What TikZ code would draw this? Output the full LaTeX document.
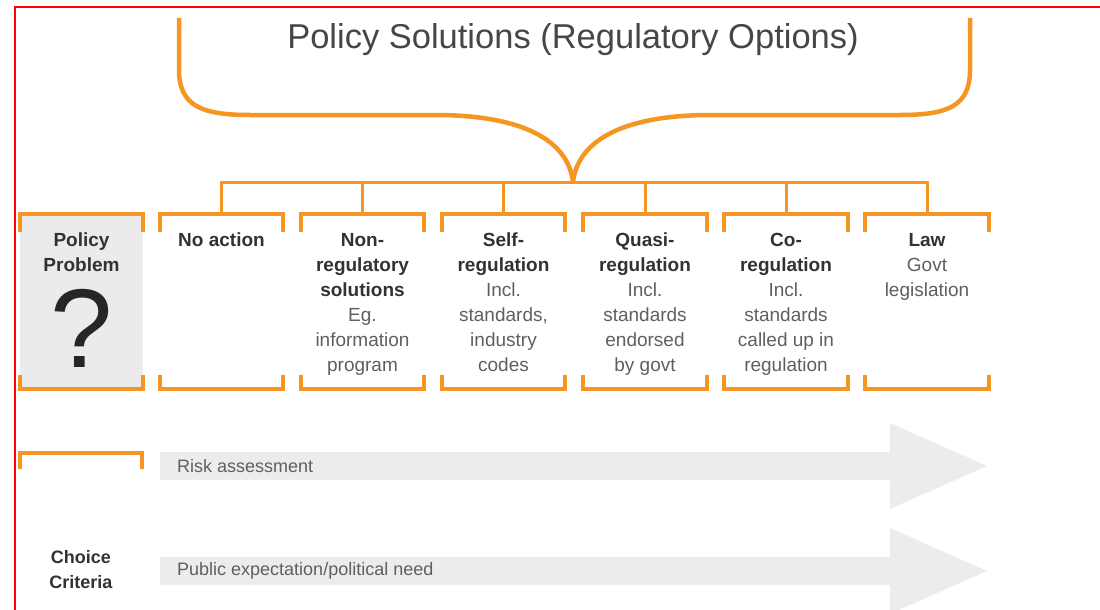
\documentclass[tikz,border=0pt]{standalone}
\usepackage{fontspec}
\setmainfont{Liberation Sans}
\definecolor{optorange}{RGB}{245,150,35}
\definecolor{boxgray}{RGB}{235,235,235}
\definecolor{arrowgray}{RGB}{236,236,236}
\definecolor{headtext}{RGB}{50,50,50}
\definecolor{bodytext}{RGB}{95,95,95}
\newcommand{\opthead}[1]{\textbf{\textcolor{headtext}{#1}}}
\tikzset{
  optbox/.style={minimum width=123pt, minimum height=175pt, inner sep=0pt},
  bracket/.style={draw=optorange, line width=4pt},
  conn/.style={draw=optorange, line width=3pt},
  opttext/.style={anchor=north, align=center, inner sep=0pt, text=bodytext,
    font=\fontsize{19}{25}\selectfont},
  crittext/.style={anchor=west, inner sep=0pt, text=bodytext,
    font=\fontsize{18}{22}\selectfont}
}
\begin{document}
\begin{tikzpicture}[x=1pt, y=-1pt]
    \useasboundingbox (0,0) rectangle (1100,610);

    % Frame
    \draw[red, line width=2pt] (15,610) -- (15,7) -- (1100,7);

    % Title and brace
    \node[font=\fontsize{34.5}{38}\selectfont, text=headtext!90] (title) at (573,40) {Policy Solutions (Regulatory Options)};
    \coordinate (tip) at (573,182);
    \draw[optorange, line width=4.5pt, line join=round]
        (179,18) -- (179,70) .. controls (179,106) and (202,115) .. (250,115)
        -- (435,115) .. controls (522,115) and (568,140) .. (tip);
    \draw[optorange, line width=4.5pt, line join=round]
        (tip) .. controls (578,140) and (624,115) .. (711,115)
        -- (900,115) .. controls (948,115) and (970,106) .. (970,70) -- (970,18);

    % Boxes
    \node[optbox, fill=boxgray] (prob) at (81.5,301.5) {};
    \node[optbox] (noact) at (221.5,301.5) {};
    \node[optbox] (nonreg) at (362.5,301.5) {};
    \node[optbox] (self) at (503.5,301.5) {};
    \node[optbox] (quasi) at (645,301.5) {};
    \node[optbox] (coreg) at (786,301.5) {};
    \node[optbox] (law) at (927,301.5) {};
    \foreach \n in {prob,noact,nonreg,self,quasi,coreg,law} {
        \draw[bracket] ([yshift=-18pt]\n.north west) -- (\n.north west) -- (\n.north east) -- ([yshift=-18pt]\n.north east);
        \draw[bracket] ([yshift=14pt]\n.south west) -- (\n.south west) -- (\n.south east) -- ([yshift=14pt]\n.south east);
    }

    % Connectors
    \draw[conn] (noact.north) |- (tip) -| (law.north);
    \foreach \n in {nonreg,self,quasi,coreg}
        \draw[conn] (\n.north) -- (\n.north |- tip);

    % Box texts
    \node[opttext] (problbl) at (81.5,233) {\opthead{Policy}\\\opthead{Problem}};
    \node[font=\fontsize{112}{112}\selectfont, text=black!85, inner sep=0pt] (qmark) at (82,328) {?};
    \node[opttext] (noactlbl) at (221.5,233) {\opthead{No action}};
    \node[opttext] (nonreglbl) at (362.5,233) {\opthead{Non-}\\\opthead{regulatory}\\\opthead{solutions}\\Eg.\\information\\program};
    \node[opttext] (selflbl) at (503.5,233) {\opthead{Self-}\\\opthead{regulation}\\Incl.\\standards,\\industry\\codes};
    \node[opttext] (quasilbl) at (645,233) {\opthead{Quasi-}\\\opthead{regulation}\\Incl.\\standards\\endorsed\\by govt};
    \node[opttext] (coreglbl) at (786,233) {\opthead{Co-}\\\opthead{regulation}\\Incl.\\standards\\called up in\\regulation};
    \node[opttext] (lawlbl) at (927,233) {\opthead{Law}\\Govt\\legislation};

    % Choice criteria
    \draw[bracket] (20,469) -- (20,453) -- (142,453) -- (142,469);
    \fill[arrowgray] (160,452) -- (890,452) -- (890,423) -- (987,466) -- (890,509) -- (890,480) -- (160,480) -- cycle;
    \fill[arrowgray] (160,557) -- (890,557) -- (890,528) -- (987,571) -- (890,614) -- (890,585) -- (160,585) -- cycle;
    \node[crittext] (risklbl) at (177,466) {Risk assessment};
    \node[crittext] (publbl) at (177,571) {Public expectation/political need};
    \node[opttext, anchor=center, font=\fontsize{18}{25}\selectfont] (critlbl) at (81,570) {\opthead{Choice}\\\opthead{Criteria}};
\end{tikzpicture}
\end{document}
